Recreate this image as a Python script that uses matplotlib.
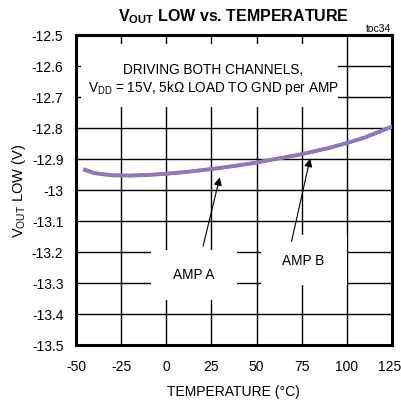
import matplotlib
matplotlib.use("Agg")
import matplotlib.pyplot as plt
import matplotlib.transforms as mtransforms
from matplotlib.patches import Rectangle

# data
temp = [-45, -40, -30, -20, -10, 0, 10, 25, 40, 50, 60, 75, 90, 100, 110, 125]
amp_a = [-12.934, -12.945, -12.952, -12.953, -12.951, -12.947, -12.942, -12.932, -12.920, -12.911, -12.900, -12.884, -12.864, -12.848, -12.830, -12.795]
amp_b = [-12.936, -12.946, -12.953, -12.954, -12.952, -12.948, -12.943, -12.933, -12.921, -12.912, -12.901, -12.885, -12.865, -12.849, -12.831, -12.796]
xticks = [-50, -25, 0, 25, 50, 75, 100, 125]
xtick_labels = ["-50", "-25", "0", "25", "50", "75", "100", "125"]
yticks = [-12.5, -12.6, -12.7, -12.8, -12.9, -13.0, -13.1, -13.2, -13.3, -13.4, -13.5]
ytick_labels = ["-12.5", "-12.6", "-12.7", "-12.8", "-12.9", "-13", "-13.1", "-13.2", "-13.3", "-13.4", "-13.5"]

plt.rcParams['font.family'] = ['Liberation Sans', 'DejaVu Sans']
plt.rcParams['mathtext.fontset'] = 'custom'
plt.rcParams['mathtext.rm'] = 'Liberation Sans'
plt.rcParams['mathtext.bf'] = 'Liberation Sans:bold'
plt.rcParams['axes.unicode_minus'] = False

fig = plt.figure(figsize=(4.02, 4.02), dpi=100)
ax = fig.add_axes([76/402, 1 - 346/402, 316/402, 310/402])

ax.set_xlim(-50, 125)
ax.set_ylim(-13.5, -12.5)
ax.set_xticks(xticks)
ax.set_xticklabels(xtick_labels)
ax.set_yticks(yticks)
ax.set_yticklabels(ytick_labels)
ax.tick_params(length=0, labelsize=10)
ax.tick_params(axis="x", pad=10)
ax.tick_params(axis="y", pad=9)
ax.grid(True, color="black", linewidth=1)
for s in ax.spines.values():
    s.set_linewidth(2.2)

# last x label sits right at the figure edge, nudge it in a little
last = ax.get_xticklabels()[-1]
last.set_transform(last.get_transform() + mtransforms.ScaledTranslation(-2/72, 0, fig.dpi_scale_trans))

# white boxes hiding the grid behind the labels
ax.add_patch(Rectangle((-47, -12.732), 142, 0.203, facecolor="white", edgecolor="none", zorder=2.5))
ax.add_patch(Rectangle((-8.5, -13.355), 47.5, 0.16, facecolor="white", edgecolor="none", zorder=2.5))
ax.add_patch(Rectangle((52.4, -13.306), 47.6, 0.16, facecolor="white", edgecolor="none", zorder=2.5))

ax.plot(temp, amp_a, color="#9078b8", linewidth=2.6, zorder=3)
ax.plot(temp, amp_b, color="#9078b8", linewidth=2.6, zorder=3)

ax.text(26, -12.61, "DRIVING BOTH CHANNELS,", ha="center", va="center", fontsize=9.8, zorder=4)
ax.text(26, -12.668, r"V$_{\rm DD}$ = 15V, 5kΩ LOAD TO GND per AMP", ha="center", va="center", fontsize=9.8, zorder=4)

ax.text(15.3, -13.272, "AMP A", ha="center", va="center", fontsize=9.8, zorder=4)
ax.text(75.7, -13.226, "AMP B", ha="center", va="center", fontsize=9.8, zorder=4)
ax.annotate("", xy=(30, -12.95), xytext=(20, -13.19),
            arrowprops=dict(arrowstyle="-|>", color="black", lw=0.8, mutation_scale=12), zorder=4)
ax.annotate("", xy=(80, -12.89), xytext=(69, -13.175),
            arrowprops=dict(arrowstyle="-|>", color="black", lw=0.8, mutation_scale=12), zorder=4)

ax.set_ylabel(r"V$_{\rm OUT}$ LOW (V)", fontsize=10.5, labelpad=3)
fig.text(233/402, 1 - 392/402, "TEMPERATURE (°C)", ha="center", va="center", fontsize=10)
fig.text(234/402, 1 - 17/402, r"V$_{\mathbf{OUT}}$ LOW vs. TEMPERATURE", ha="center", va="center",
         fontsize=11.5, fontweight="bold")
fig.text(391/402, 1 - 29/402, "toc34", ha="right", va="center", fontsize=7.5)

fig.savefig("out.png", dpi=100)
